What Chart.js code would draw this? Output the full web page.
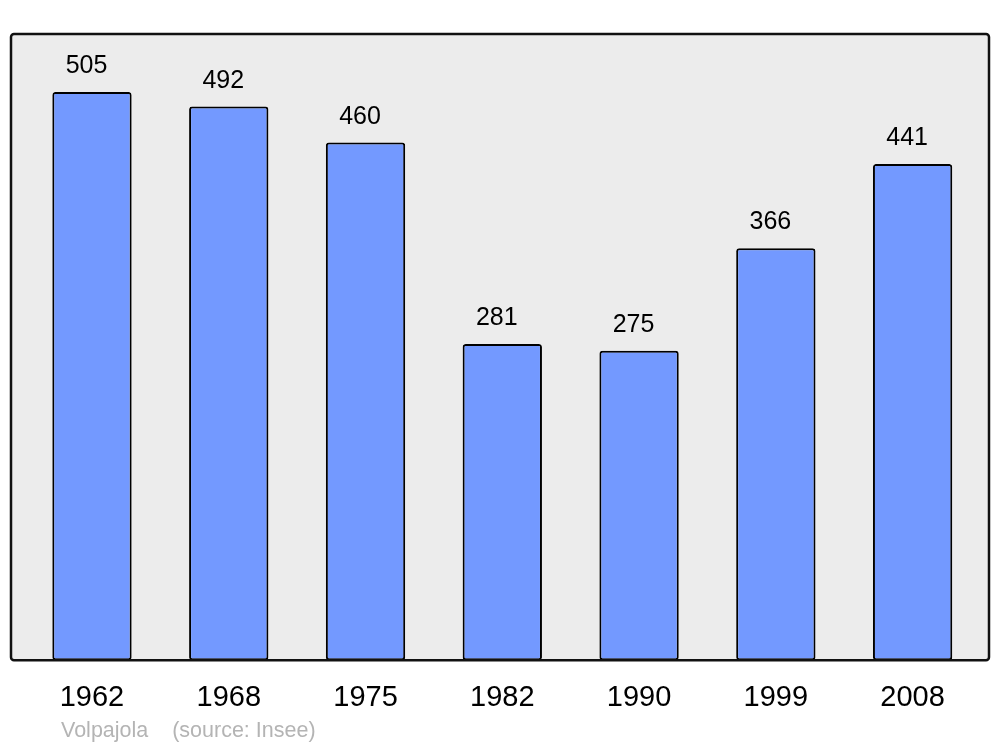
<!DOCTYPE html>
<html>
<head>
<meta charset="utf-8">
<script src="https://cdn.jsdelivr.net/npm/chart.js@4/dist/chart.umd.min.js"></script>
<style>
  html, body { margin: 0; padding: 0; background: #fff; }
  #wrap { width: 1000px; height: 747px; }
</style>
</head>
<body>
<div id="wrap"><canvas id="popChart" width="1000" height="747"></canvas></div>
<script>
// population by census year
const years = ['1962', '1968', '1975', '1982', '1990', '1999', '2008'];
const population = [505, 492, 460, 281, 275, 366, 441];
const sourceText = 'Volpajola    (source: Insee)';

// grey frame behind the bars, border drawn on top
const framePlugin = {
    id: 'frame',
    beforeDatasetsDraw(chart) {
        const { ctx, chartArea } = chart;
        ctx.save();
        ctx.beginPath();
        ctx.roundRect(11, chartArea.top, 978, chartArea.bottom - chartArea.top, 3);
        ctx.fillStyle = '#ececec';
        ctx.fill();
        ctx.restore();
    },
    afterDatasetsDraw(chart) {
        const { ctx, chartArea } = chart;
        ctx.save();
        ctx.beginPath();
        ctx.roundRect(11, chartArea.top, 978, chartArea.bottom - chartArea.top, 3);
        ctx.lineWidth = 2.5;
        ctx.strokeStyle = '#111';
        ctx.stroke();

        // value labels above the bars
        const meta = chart.getDatasetMeta(0);
        ctx.fillStyle = '#000';
        ctx.font = '25px "Liberation Sans", Arial, sans-serif';
        ctx.textAlign = 'center';
        ctx.textBaseline = 'alphabetic';
        meta.data.forEach((bar, i) => {
            ctx.fillText(population[i], bar.x - 5.5, bar.y - 19);
        });

        ctx.fillStyle = '#b4b4b4';
        ctx.font = '21.5px "Liberation Sans", Arial, sans-serif';
        ctx.textAlign = 'left';
        ctx.fillText(sourceText, 61, 737);
        ctx.restore();
    }
};

const ctx = document.getElementById('popChart').getContext('2d');
new Chart(ctx, {
    type: 'bar',
    data: {
        labels: years,
        datasets: [{
            data: population,
            backgroundColor: '#7399ff',
            borderColor: '#000',
            borderWidth: 2,
            borderRadius: 3,
            borderSkipped: false,
            barPercentage: 0.58,
            categoryPercentage: 1
        }]
    },
    options: {
        responsive: false,
        animation: false,
        layout: {
            padding: { top: 34, left: 23.6, right: 19, bottom: 12 }
        },
        plugins: {
            legend: { display: false },
            tooltip: { enabled: false }
        },
        scales: {
            x: {
                grid: { display: false, drawTicks: false },
                border: { display: false },
                ticks: {
                    color: '#000',
                    padding: 20,
                    font: { size: 29, family: '"Liberation Sans", Arial, sans-serif' }
                }
            },
            y: {
                display: false,
                min: 0,
                max: 556.5
            }
        }
    },
    plugins: [framePlugin]
});
</script>
</body>
</html>
